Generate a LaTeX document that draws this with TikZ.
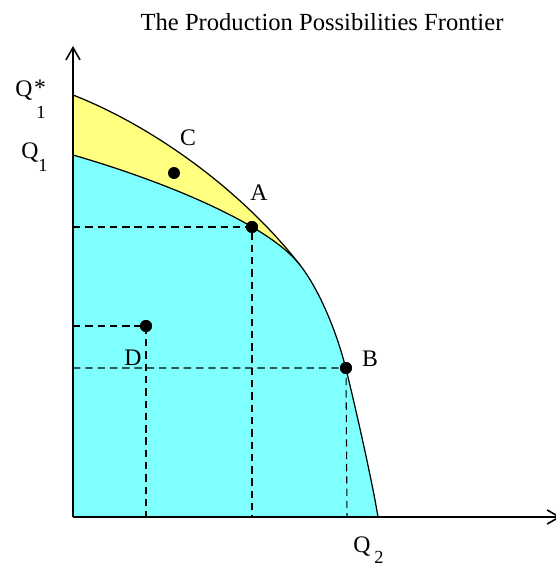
\documentclass[tikz,border=0pt]{standalone}
\usepackage{fontspec}
\setmainfont{Liberation Serif}
\usetikzlibrary{arrows.meta}
\definecolor{ppfyellow}{RGB}{255,255,128}
\definecolor{ppfcyan}{RGB}{128,255,255}
\begin{document}
\begin{tikzpicture}[x=0.02cm,y=-0.02cm,
  dot/.style={circle,fill=black,inner sep=0pt,minimum size=6.8pt},
  lbl/.style={inner sep=0pt,font=\fontsize{13.5}{15}\selectfont},
  sublbl/.style={inner sep=0pt,font=\fontsize{10.5}{12}\selectfont},
  guide/.style={dash pattern=on 4.2pt off 2.8pt,line width=0.6pt},
  axisline/.style={line width=0.9pt,-{Straight Barb[length=7pt,width=8pt]}},
  frontier/.style={line width=0.7pt}]
\useasboundingbox (0,0) rectangle (555,567);
% fills
\fill[ppfyellow] (73,517) -- (73,95) .. controls (150,125) and (240,188) .. (300,265)
   .. controls (318,288) and (336,329) .. (346,369)
   .. controls (354,401) and (372,480) .. (378,517) -- cycle;
\fill[ppfcyan] (73,517) -- (73,155) .. controls (170,183) and (270,226) .. (300,265)
   .. controls (318,288) and (336,329) .. (346,369)
   .. controls (354,401) and (372,480) .. (378,517) -- cycle;
% curves
\draw[frontier] (73,95) .. controls (150,125) and (240,188) .. (300,265)
   .. controls (318,288) and (336,329) .. (346,369)
   .. controls (354,401) and (372,480) .. (378,517);
\draw[frontier] (73,155) .. controls (170,183) and (270,226) .. (300,265);
% axes
\coordinate (O) at (73,517);
\coordinate (ytop) at (73,46);
\coordinate (xend) at (561,517);
\draw[axisline] (O) -- (ytop);
\draw[axisline] (O) -- (xend);
% points
\node[dot] (A) at (252,227) {};
\node[dot] (B) at (346,368) {};
\node[dot] (C) at (174,173) {};
\node[dot] (D) at (146,326) {};
% guide coordinates
\coordinate (Ay) at (73,227);
\coordinate (Ax) at (252,517);
\coordinate (By) at (73,368);
\coordinate (Bx) at (347,517);
\coordinate (Dy) at (73,326);
\coordinate (Dx) at (146,517);
\draw[guide] (Ay) -- (A.center) -- (Ax);
\draw[guide] (By) -- (B.center) -- (Bx);
\draw[guide] (Dy) -- (D.center) -- (Dx);
% dots on top of guides
\fill (A) circle[radius=3.4pt];
\fill (B) circle[radius=3.4pt];
\fill (D) circle[radius=3.4pt];
% labels
\node[lbl] (Alab) at (259,193) {A};
\node[lbl] (Blab) at (370,359) {B};
\node[lbl] (Clab) at (188,138) {C};
\node[lbl] (Dlab) at (133,358) {D};
\node[lbl,font=\fontsize{14}{16}\selectfont] (title) at (322,22) {The Production Possibilities Frontier};
% Q*1
\node[lbl,anchor=base west] (Qs) at (15,97) {Q};
\node[lbl,anchor=center] (star) at (40,88) {*};
\node[sublbl,anchor=base west] (Qs1) at (36,119) {1};
% Q1
\node[lbl,anchor=base west] (Q1) at (21,159) {Q};
\node[sublbl,anchor=base west] (Q1s) at (38,172) {1};
% Q2
\node[lbl,anchor=base west] (Q2) at (353,552) {Q};
\node[sublbl,anchor=base west] (Q2s) at (374,563) {2};
\end{tikzpicture}
\end{document}
